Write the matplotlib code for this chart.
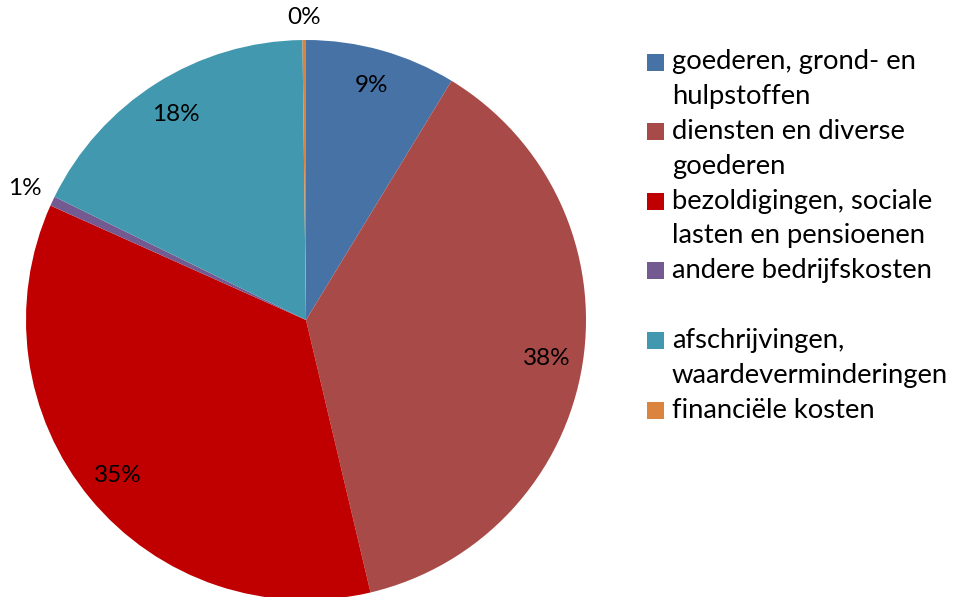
import matplotlib
matplotlib.use("Agg")
import matplotlib.pyplot as plt
from matplotlib.patches import Rectangle
import numpy as np

plt.rcParams['font.family'] = ['Lato', 'DejaVu Sans']

categories = [
    "goederen, grond- en\nhulpstoffen",
    "diensten en diverse\ngoederen",
    "bezoldigingen, sociale\nlasten en pensioenen",
    "andere bedrijfskosten\n",
    "afschrijvingen,\nwaardeverminderingen",
    "financiële kosten",
]
values = [8.7, 37.6, 35.4, 0.55, 17.55, 0.2]
colors = ["#4672A6", "#A84A48", "#C00000", "#735A91", "#4298AF", "#DB843D"]

W, H = 958, 597
fig = plt.figure(figsize=(W / 100, H / 100), dpi=100)

# pie axes: center (306, 320) px, radius 280 px
cx, cy, r = 306, 320, 280
ax = fig.add_axes([(cx - r) / W, (H - cy - r) / H, 2 * r / W, 2 * r / H])
wedges, texts, autotexts = ax.pie(
    values, colors=colors, startangle=90, counterclock=False,
    autopct='%1.0f%%', pctdistance=0.87, radius=1,
    wedgeprops=dict(linewidth=0),
    textprops=dict(fontsize=17.5, color='black'))
ax.set_xlim(-1, 1)
ax.set_ylim(-1, 1)
ax.set_aspect('equal')
ax.axis('off')

# small slices: labels outside
outside = {3: 1.11, 5: 1.08}
for i, d in outside.items():
    w = wedges[i]
    ang = np.deg2rad((w.theta1 + w.theta2) / 2)
    autotexts[i].set_position((d * np.cos(ang), d * np.sin(ang)))

# legend drawn manually
x_sq, x_txt = 647, 672
y0, pitch = 62, 34.8
line = 0
for lab, col in zip(categories, colors):
    lines = lab.split("\n")
    yc = y0 + pitch * line
    fig.patches.append(Rectangle((x_sq / W, 1 - (yc + 8.5) / H), 17 / W, 17 / H,
                                 transform=fig.transFigure, facecolor=col,
                                 edgecolor='none'))
    for k, t in enumerate(lines):
        fig.text(x_txt / W, 1 - (yc + pitch * k) / H, t, fontsize=19.7,
                 va='center', ha='left', color='black')
    line += len(lines)

fig.savefig("out.png", dpi=100)
